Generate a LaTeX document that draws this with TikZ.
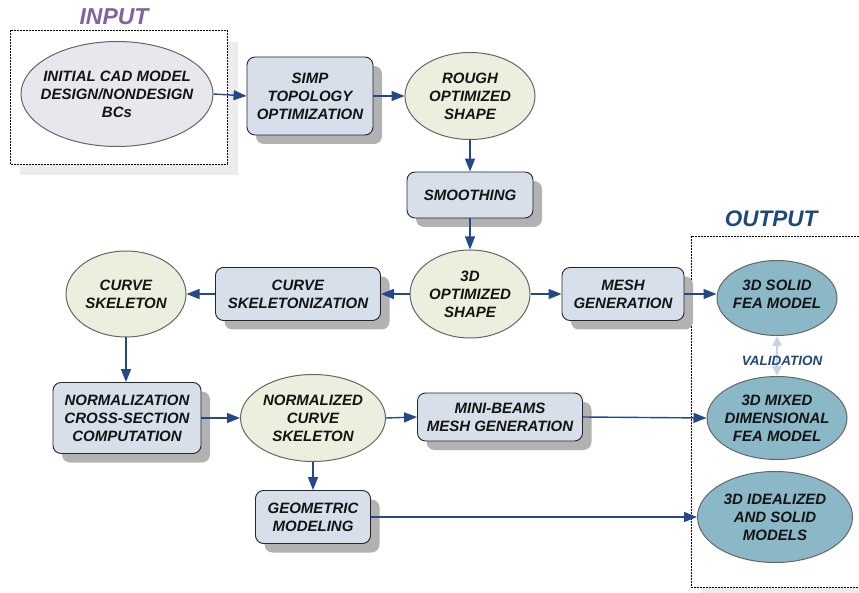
\documentclass[tikz,border=0pt]{standalone}
\usepackage{fontspec}
\setmainfont{Liberation Sans}
\usetikzlibrary{shapes.geometric,arrows.meta,shadows}
\definecolor{boxfill}{RGB}{214,223,234}
\definecolor{greenfill}{RGB}{235,239,221}
\definecolor{lavfill}{RGB}{233,230,238}
\definecolor{tealfill}{RGB}{138,184,198}
\definecolor{arrowc}{RGB}{37,72,138}
\definecolor{textc}{RGB}{20,20,20}
\definecolor{inputc}{RGB}{128,100,162}
\definecolor{outputc}{RGB}{31,73,125}
\definecolor{valc}{RGB}{200,212,227}
\definecolor{shadowc}{RGB}{178,178,178}
\definecolor{boxshadow}{RGB}{236,236,236}
\newcommand\nodefont{\fontsize{15}{18}\selectfont\bfseries\itshape}
\tikzset{
  box/.style={rectangle, draw=black!85, line width=0.9pt, fill=boxfill, rounded corners=8pt,
    inner sep=0pt, align=center, font=\nodefont, text=textc,
    drop shadow={shadow xshift=9pt, shadow yshift=-9pt, fill=shadowc, opacity=1}},
  ell/.style={ellipse, draw=black!60, line width=1pt, inner sep=0pt},
  lbl/.style={align=center, font=\nodefont, text=textc, inner sep=0pt},
  arr/.style={draw=arrowc, line width=1.4pt, -{Triangle[length=13pt,width=10pt]}},
  dashbox/.style={draw=black, line width=0.7pt, dash pattern=on 2pt off 1pt, fill=white},
}
\begin{document}
\begin{tikzpicture}[x=1pt,y=-1pt]
\path[use as bounding box] (0,0) rectangle (859,593);
\clip (0,0) rectangle (859,593);
% input frame
\fill[boxshadow] (20,42) rectangle (238,175);
\path[dashbox] (10,30) rectangle (227,164);
\node[font=\fontsize{23}{26}\selectfont\bfseries\itshape, text=inputc] (inlbl) at (114,17) {INPUT};
% output frame
\fill[boxshadow] (702,248) rectangle (880,598);
\path[dashbox] (691,236) rectangle (880,587);
\node[font=\fontsize{22.5}{26}\selectfont\bfseries\itshape, text=outputc] (outlbl) at (771,219) {OUTPUT};

% ellipses (shape) + their texts
\node[ell, fill=lavfill, minimum width=192pt, minimum height=105pt] (cad) at (117,94) {};
\node[lbl] (cadt) at (cad) {INITIAL CAD MODEL\\DESIGN/NONDESIGN\\BCs};
\node[ell, fill=greenfill, minimum width=130pt, minimum height=87pt] (rough) at (470,96) {};
\node[lbl] (rought) at (rough) {ROUGH\\OPTIMIZED\\SHAPE};
\node[ell, fill=greenfill, minimum width=120pt, minimum height=88pt] (opt) at (470,294) {};
\node[lbl] (optt) at (opt) {3D\\OPTIMIZED\\SHAPE};
\node[ell, fill=tealfill, minimum width=120pt, minimum height=75pt] (solid) at (777,298) {};
\node[lbl] (solidt) at (777,294) {3D SOLID\\FEA MODEL};
\node[ell, fill=greenfill, minimum width=120pt, minimum height=86pt] (skel) at (126,294) {};
\node[lbl] (skelt) at (skel) {CURVE\\SKELETON};
\node[ell, fill=greenfill, minimum width=145pt, minimum height=87pt] (nskel) at (313,418) {};
\node[lbl] (nskelt) at (nskel) {NORMALIZED\\CURVE\\SKELETON};
\node[ell, fill=tealfill, minimum width=140pt, minimum height=83pt] (mixed) at (777,418) {};
\node[lbl] (mixedt) at (mixed) {3D MIXED\\DIMENSIONAL\\FEA MODEL};
\node[ell, fill=tealfill, minimum width=155pt, minimum height=91pt] (ideal) at (775,517) {};
\node[lbl] (idealt) at (ideal) {3D IDEALIZED\\AND SOLID\\MODELS};

% boxes
\node[box, minimum width=126pt, minimum height=78pt] (simp) at (310,96) {SIMP\\TOPOLOGY\\OPTIMIZATION};
\node[box, minimum width=126pt, minimum height=46pt] (smooth) at (470,195) {SMOOTHING};
\node[box, minimum width=122pt, minimum height=53pt] (mesh) at (623,294) {MESH\\GENERATION};
\node[box, minimum width=165pt, minimum height=53pt] (skz) at (298,294) {CURVE\\SKELETONIZATION};
\node[box, minimum width=148pt, minimum height=71pt] (norm) at (127,418) {NORMALIZATION\\CROSS-SECTION\\COMPUTATION};
\node[box, minimum width=165pt, minimum height=48pt] (mini) at (500,417) {MINI-BEAMS\\MESH GENERATION};
\node[box, minimum width=115pt, minimum height=53pt] (geo) at (313,517) {GEOMETRIC\\MODELING};

% validation
\draw[draw=valc, line width=2.5pt, {Triangle[length=10pt,width=9pt]}-{Triangle[length=10pt,width=9pt]}] (solid.south) -- (mixed.north);
\node[font=\fontsize{13.5}{16}\selectfont\bfseries\itshape, text=outputc] (val) at (782,361) {VALIDATION};

% connectors
\draw[arr] (cad.east) -- (simp.west);
\draw[arr] (simp.east) -- (rough.west);
\draw[arr] (rough.south) -- (smooth.north);
\draw[arr] (smooth.south) -- (opt.north);
\draw[arr] (opt.east) -- (mesh.west);
\draw[arr] (mesh.east) -- (solid.west |- mesh.east);
\draw[arr] (opt.west) -- (skz.east);
\draw[arr] (skz.west) -- (skel.east);
\draw[arr] (skel.south) -- (norm.north -| skel.south);
\draw[arr] (norm.east) -- (nskel.west);
\draw[arr] (nskel.east) -- (mini.west);
\draw[arr] (mini.east) -- (mixed.west);
\draw[arr] (nskel.south) -- (geo.north);
\draw[arr] (geo.east) -- (ideal.west);
\end{tikzpicture}
\end{document}
